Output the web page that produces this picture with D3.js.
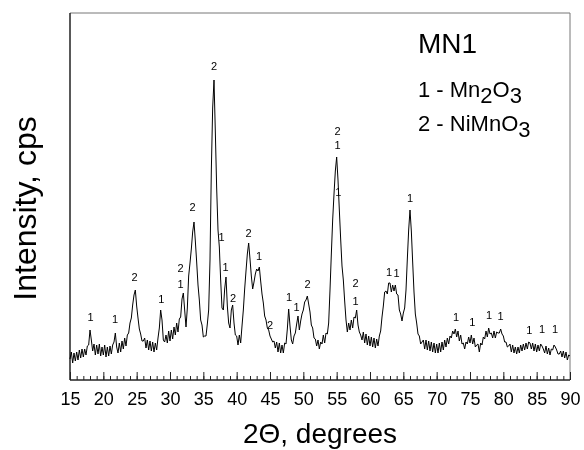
<!DOCTYPE html>
<html>
<head>
<meta charset="utf-8">
<script src="https://cdn.jsdelivr.net/npm/d3@7"></script>
<style>
  html, body { margin: 0; padding: 0; background: #fff; }
  svg { display: block; font-family: "Liberation Sans", Arial, sans-serif; will-change: transform; -webkit-font-smoothing: antialiased; }
</style>
</head>
<body>
<svg id="chart" width="584" height="450"></svg>
<script>
// ---- data ----
const thetaStart = 15;       // 2Θ of first sample, degrees
const thetaStep = 0.2;       // sampling step, degrees
const intensity = [
  21, 28, 17, 27, 19,   28, 20, 30, 22, 31,   23, 31, 25, 34, 35,
  50, 40, 29, 36, 25,   35, 26, 36, 24, 33,   25, 35, 23, 33, 24,
  34, 26, 35, 38, 47,   33, 27, 37, 28, 39,   31, 42, 34, 45, 47,
  57, 62, 75, 85, 90,   74, 62, 51, 46, 39,   39, 42, 32, 40, 30,
  39, 29, 38, 28, 37,   30, 42, 52, 70, 60,   40, 38, 45, 37, 49,
  39, 50, 41, 53, 45,   57, 48, 61, 63, 81,   87, 70, 53, 72, 104,
  117, 131, 148, 158, 139,   118, 95, 80, 60, 55,   43, 44, 44, 56, 70,
  120, 210, 272, 300, 248,   192, 150, 133, 100, 72,   70, 91, 103, 74, 57,
  52, 70, 75, 57, 45,   44, 35, 45, 37, 54,   70, 91, 109, 126, 137,
  121, 104, 91, 98, 106,   111, 109, 113, 99, 86,   77, 64, 60, 52, 50,
  44, 41, 38, 39, 32,   38, 28, 37, 27, 35,   27, 37, 36, 51, 71,
  54, 40, 36, 44, 47,   56, 64, 50, 59, 66,   70, 78, 80, 84, 76,
  68, 55, 52, 42, 41,   34, 40, 31, 38, 36,   45, 37, 47, 46, 57,
  90, 126, 160, 186, 209,   223, 200, 170, 141, 114,   100, 79, 60, 48, 57,
  50, 60, 52, 63, 62,   70, 55, 48, 45, 40,   48, 37, 46, 35, 44,
  34, 43, 33, 42, 32,   41, 34, 44, 49, 63,   74, 88, 89, 86, 97,
  97, 88, 95, 89, 95,   86, 85, 70, 66, 59,   67, 72, 90, 121, 150,
  170, 149, 118, 88, 66,   57, 46, 44, 36, 38,   40, 31, 40, 30, 39,
  29, 38, 28, 37, 27,   36, 27, 37, 28, 38,   30, 40, 33, 42, 36,
  44, 42, 49, 46, 51,   43, 49, 39, 45, 36,   37, 31, 38, 36, 43,
  37, 45, 36, 42, 33,   35, 36, 28, 37, 35,   43, 41, 49, 43, 52,
  46, 47, 42, 49, 42,   48, 47, 47, 51, 46,   44, 38, 38, 33, 34,
  36, 28, 35, 27, 33,   26, 33, 27, 35, 29,   36, 30, 37, 31, 38,
  37, 31, 37, 29, 36,   28, 35, 29, 36, 34,   31, 27, 34, 26, 32,
  25, 31, 30, 35, 33,   30, 26, 26, 29, 23,   29, 22, 28, 20, 25,
  24
];

// peak markers: 2Θ position, phase number, intensity level of the marker
const markTheta = [18.1, 21.75, 24.7, 28.7, 31.6, 31.6, 33.4, 36.6, 37.75, 38.35, 39.45, 41.8, 43.35, 45.0, 47.85, 49.0, 50.65, 55.15, 55.15, 55.25, 57.85, 57.85, 62.85, 64.0, 66.0, 72.9, 75.35, 77.85, 79.6, 83.9, 85.8, 87.75];
const markText  = ["1","1","2","1","1","2","2","2","1","1","2","2","1","2","1","1","2","1","2","1","1","2","1","1","1","1","1","1","1","1","1","1"];
const markLevel = [63, 61, 103, 81, 96, 112, 173, 314, 143, 113, 82, 147, 124, 55, 83, 73, 96, 235, 249, 188, 79, 97, 108, 107, 182, 63, 58, 65, 64, 50, 51, 51];

const majorTicks = [15, 20, 25, 30, 35, 40, 45, 50, 55, 60, 65, 70, 75, 80, 85, 90];
const sampleTitle = "MN1";
const phaseKeys = ["1", "2"];
const phaseFormulas = [
  [["Mn", 0], ["2", 1], ["O", 0], ["3", 1]],
  [["NiMnO", 0], ["3", 1]]
];
const xTitle = "2Θ, degrees";
const yTitle = "Intensity, cps";

// ---- layout ----
const svg = d3.select("#chart");
const pL = 70, pR = 570, pT = 13, pB = 380;
const x = d3.scaleLinear().domain([15, 90]).range([pL, pR]);
const y = d3.scaleLinear().domain([0, 367]).range([pB, pT]);

const data = intensity.map((v, i) => ({ t: thetaStart + i * thetaStep, v }));

// frame
svg.append("line").attr("x1", pL).attr("x2", pR).attr("y1", pT).attr("y2", pT)
  .attr("stroke", "#777").attr("stroke-width", 1);
svg.append("line").attr("x1", pR).attr("x2", pR).attr("y1", pT).attr("y2", pB)
  .attr("stroke", "#777").attr("stroke-width", 1);
svg.append("line").attr("x1", pL).attr("x2", pL).attr("y1", pT).attr("y2", pB)
  .attr("stroke", "#222").attr("stroke-width", 1.5);

// minor ticks
const minorAxis = d3.axisBottom(x).tickValues(d3.range(15, 91, 1)).tickSize(-4).tickFormat("");
const gMinor = svg.append("g").attr("transform", `translate(0,${pB})`).call(minorAxis);
gMinor.select(".domain").remove();
gMinor.selectAll("line").attr("stroke", "#222");

// major ticks
const majorAxis = d3.axisBottom(x).tickValues(majorTicks).tickSize(-8).tickPadding(12).tickFormat(d3.format("d"));
const gMajor = svg.append("g").attr("transform", `translate(0,${pB})`).call(majorAxis);
gMajor.select(".domain").attr("d", `M${pL},0H${pR}`).attr("stroke", "#222").attr("stroke-width", 1.5);
gMajor.selectAll("line").attr("stroke", "#222");
gMajor.selectAll("text").attr("font-size", 18).attr("font-family", "Liberation Sans, Arial, sans-serif").attr("fill", "#000");

// pattern
const line = d3.line().x(d => x(d.t)).y(d => y(d.v));
svg.append("path").datum(data).attr("d", line)
  .attr("fill", "none").attr("stroke", "#000").attr("stroke-width", 1).attr("stroke-linejoin", "round");

// peak marks
svg.append("g").selectAll("text").data(markTheta).join("text")
  .attr("x", d => x(d)).attr("y", (d, i) => y(markLevel[i]))
  .attr("dy", "0.35em").attr("text-anchor", "middle")
  .attr("font-size", 11).attr("fill", "#000")
  .text((d, i) => markText[i]);

// legend
svg.append("text").attr("x", 418).attr("y", 53).attr("font-size", 28).text(sampleTitle);
phaseFormulas.forEach((parts, i) => {
  const t = svg.append("text").attr("x", 418).attr("y", 97 + i * 34).attr("font-size", 22);
  t.append("tspan").text(phaseKeys[i] + " - ");
  let sub = false;
  parts.forEach(([s, isSub]) => {
    const shift = isSub && !sub ? 6 : (!isSub && sub ? -6 : 0);
    t.append("tspan").attr("dy", shift).text(s);
    sub = !!isSub;
  });
});

// axis titles
svg.append("text").attr("x", (pL + pR) / 2).attr("y", 443)
  .attr("text-anchor", "middle").attr("font-size", 28).text(xTitle);
svg.append("text").attr("transform", `translate(36,${(pT + pB) / 2 + 12}) rotate(-90)`)
  .attr("text-anchor", "middle").attr("font-size", 32).text(yTitle);
</script>
</body>
</html>
